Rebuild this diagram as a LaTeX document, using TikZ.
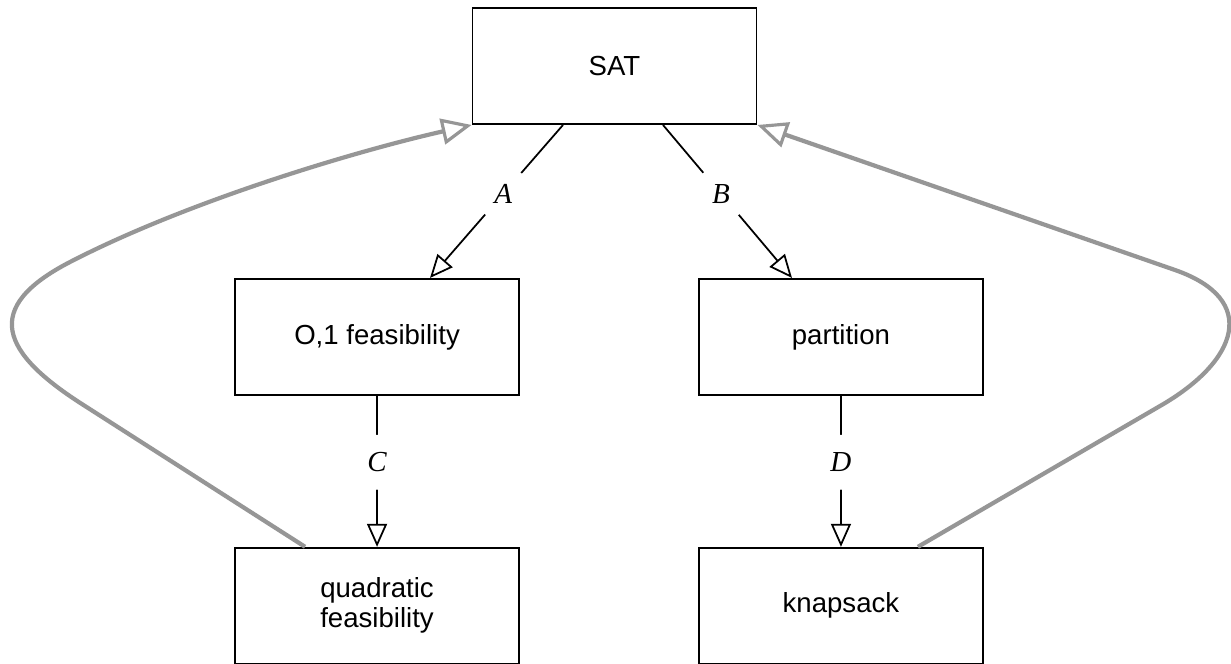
\documentclass[tikz,border=0pt]{standalone}
\usepackage{fontspec}
\setsansfont{Liberation Sans}
\newfontfamily\labelfont{Liberation Serif}
\usepackage{tikz}
\usetikzlibrary{arrows.meta,positioning}
\definecolor{backgray}{RGB}{150,150,150}

\begin{document}
\begin{tikzpicture}[
    x=0.02cm, y=-0.02cm,
    box/.style={draw, line width=1.1pt, minimum width=5.68cm, minimum height=2.32cm, align=center,
        font=\sffamily\fontsize{15.7}{17}\selectfont},
    arrow/.style={-{Triangle[open, length=4.6mm, width=4mm]}, line width=1pt},
    back/.style={-{Triangle[open, length=6mm, width=5.2mm, line width=1.8pt]}, line width=2.4pt, draw=backgray},
    lbl/.style={circle, fill=white, inner sep=0pt, minimum size=1.1cm,
        font=\labelfont\itshape\fontsize{16.5}{16.5}\selectfont},
    node distance=3.06cm
]
\useasboundingbox (0,0) rectangle (1231,663);

\node[box] (sat) at (614.5,66) {SAT};
\node[box, below=of sat, xshift=-4.75cm] (zo) {O,1 feasibility};
\node[box, below=of sat, xshift=4.53cm] (part) {partition};
\node[box, below=3.02cm of zo] (quad) {quadratic\\feasibility};
\node[box, below=3.02cm of part] (knap) {knapsack};

\draw[arrow] ([xshift=-1.03cm]sat.south) -- node[lbl, pos=0.45] {A} ([xshift=1.06cm]zo.north);
\draw[arrow] ([xshift=0.97cm]sat.south) -- node[lbl, pos=0.45] {B} ([xshift=-0.98cm]part.north);
\draw[arrow] (zo) -- node[lbl, pos=0.44] {C} (quad);
\draw[arrow] (part) -- node[lbl, pos=0.44] {D} (knap);

% the two reductions back up to SAT
\draw[back] ([xshift=-1.44cm]quad.north) -- (85,406)
    .. controls (0.5,352.6) and (-18.8,307.9) .. (70,262)
    .. controls (190,200) and (360,150) .. (sat.south west);
\draw[back] ([xshift=1.54cm]knap.north) -- (1160,406)
    .. controls (1238,361.2) and (1260,299.7) .. (1175,270)
    -- (sat.south east);
\end{tikzpicture}
\end{document}
